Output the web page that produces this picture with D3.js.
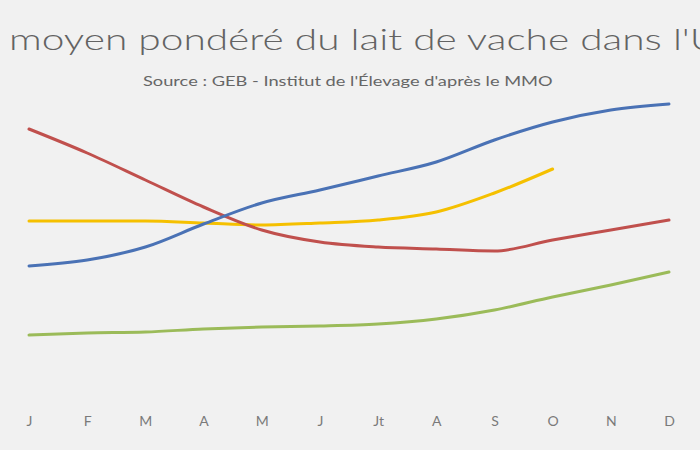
<!DOCTYPE html>
<html><head><meta charset="utf-8">
<script src="https://cdn.jsdelivr.net/npm/d3@7"></script>
<style>html,body{margin:0;padding:0;background:#f1f1f1;}svg{display:block;}</style>
</head><body>
<script>
const months = ["J","F","M","A","M","J","Jt","A","S","O","N","D"];
const blueSeries   = [134,140,153,176,197,210,224,238,260,278,290,296];
const redSeries    = [271,247,220,193,170,158,153,151,149,160,170,180];
const yellowSeries = [179,179,179,177,175,177,180,188,207,231];
const greenSeries  = [65,67,68,71,73,74,76,81,90,103,115,128];
const titleText = "Prix moyen pondéré du lait de vache dans l'UE";
const subtitleText = "Source : GEB - Institut de l'Élevage d'après le MMO";

const W = 700, H = 450;
const FONT = "'Century Gothic', 'Lato', 'DejaVu Sans', sans-serif";
const svg = d3.select("body").append("svg").attr("width", W).attr("height", H);
svg.append("rect").attr("width", W).attr("height", H).attr("fill", "#f1f1f1");

const idx = months.map((d, i) => i);
const x = d3.scalePoint().domain(idx).range([29, 669]);
const y = d3.scaleLinear().domain([0, 320]).range([400, 80]);

// title: stretched horizontally so "moyen ... l'" spans 9 -> 689, cut at both edges like the reference
const titleG = svg.append("g");
const title = titleG.append("text").attr("x", 0).attr("y", 0).attr("font-family", FONT)
  .attr("font-weight", 300).attr("font-size", 28.5).attr("fill", "#636363").text(titleText);
const node = title.node();
const iM = titleText.indexOf("moyen");
const iU = titleText.indexOf("UE");
const startM = node.getSubStringLength(0, iM);
const spanW = node.getSubStringLength(iM, iU - iM);
const sx = 681 / spanW;
titleG.attr("transform", `translate(${9 - startM * sx},50) scale(${sx},1)`);

// subtitle stretched to span 143 -> 553
const subG = svg.append("g");
const sub = subG.append("text").attr("x", 0).attr("y", 0).attr("font-family", FONT)
  .attr("font-size", 14).attr("fill", "#666666").text(subtitleText);
const subW = sub.node().getComputedTextLength();
const ssx = 410 / subW;
subG.attr("transform", `translate(143,86) scale(${ssx},1)`);

// x axis labels
const xAxis = d3.axisBottom(x).tickFormat(i => months[i]).tickSize(0).tickPadding(0);
const gx = svg.append("g").attr("transform", "translate(0,416)").call(xAxis);
gx.select(".domain").remove();
gx.selectAll("text").attr("font-family", FONT).attr("font-size", 14).attr("fill", "#7a7a7a");

const line = d3.line().x((d, i) => x(i)).y(d => y(d)).curve(d3.curveMonotoneX);
const series = [
  {values: greenSeries, color: "#9bbb59"},
  {values: yellowSeries, color: "#f5c000"},
  {values: redSeries, color: "#c0504d"},
  {values: blueSeries, color: "#4a72b5"}
];
svg.selectAll("path.series").data(series).enter().append("path").attr("class", "series")
  .attr("d", d => line(d.values)).attr("fill", "none").attr("stroke", d => d.color)
  .attr("stroke-width", 3).attr("stroke-linecap", "round").attr("stroke-linejoin", "round");
</script>
</body></html>
